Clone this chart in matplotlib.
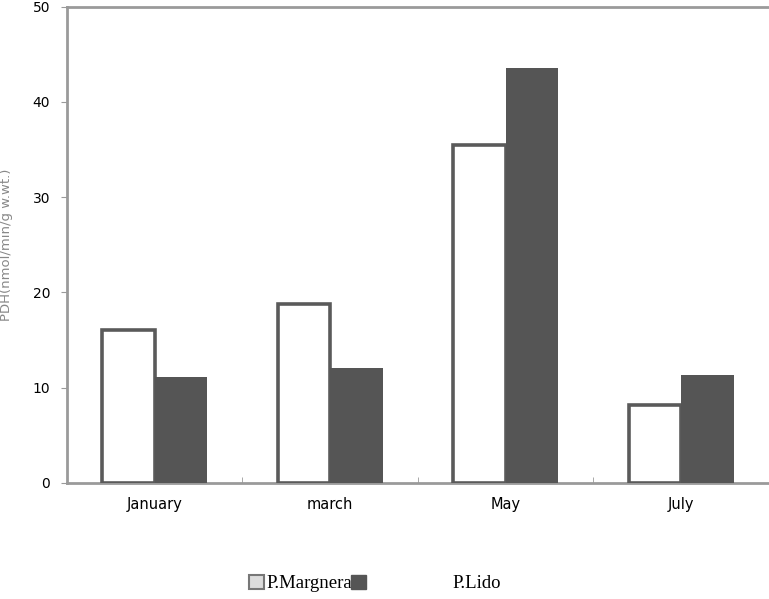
import matplotlib.pyplot as plt
import numpy as np
from matplotlib.patches import Patch

# data
months = ['January', 'march', 'May', 'July']
margnera = [16.0, 18.8, 35.5, 8.2]
lido = [11.1, 12.1, 43.6, 11.3]
yticks = [0, 10, 20, 30, 40, 50]

edge_grey = '#5a5a5a'
dark_fill = '#555555'
axis_grey = '#9a9a9a'

fig = plt.figure(figsize=(7.69, 5.99), dpi=100)
ax = fig.add_axes([0.087, 0.194, 0.913, 0.795])

x = np.arange(len(months))
w = 0.3
ax.bar(x - w / 2, margnera, w, facecolor='white', edgecolor=edge_grey, linewidth=2.6,
       label='P.Margnera', zorder=3)
ax.bar(x + w / 2, lido, w, facecolor=dark_fill, edgecolor=dark_fill, linewidth=0,
       label='P.Lido', zorder=3)

ax.set_xlim(-0.5, 3.5)
ax.set_ylim(0, 50)
ax.set_yticks(yticks)
ax.set_yticklabels([str(v) for v in yticks], fontsize=10)
ax.set_xticks(x)
ax.set_xticklabels(months, fontsize=10.5)
ax.tick_params(axis='x', length=0, pad=10)
ax.set_xticks([0.5, 1.5, 2.5], minor=True)
ax.tick_params(axis='x', which='minor', length=4, direction='in', color=axis_grey)
ax.tick_params(axis='y', length=4, color=axis_grey, pad=8)

for side in ['left', 'top', 'bottom']:
    ax.spines[side].set_color(axis_grey)
    ax.spines[side].set_linewidth(2)
ax.spines['right'].set_visible(False)

ax.set_ylabel('PDH(nmol/min/g w.wt.)', fontsize=9.5, color='#888888', labelpad=14)

# legend: light square + label, then dark square and a wide gap before "P.Lido"
leg_font = {'family': 'Liberation Serif', 'size': 13.5}
fig.legend([Patch(facecolor='#dddddd', edgecolor='#777777', linewidth=1.5)], ['P.Margnera'],
           loc='center left', bbox_to_anchor=(0.302, 0.026), frameon=False,
           handlelength=0.8, handleheight=0.8, handletextpad=0.1, prop=leg_font)
fig.legend([Patch(facecolor=dark_fill, edgecolor=dark_fill)], ['P.Lido'],
           loc='center left', bbox_to_anchor=(0.435, 0.026), frameon=False,
           handlelength=0.8, handleheight=0.8, handletextpad=4.6, prop=leg_font)

fig.savefig('out.png', dpi=100)
